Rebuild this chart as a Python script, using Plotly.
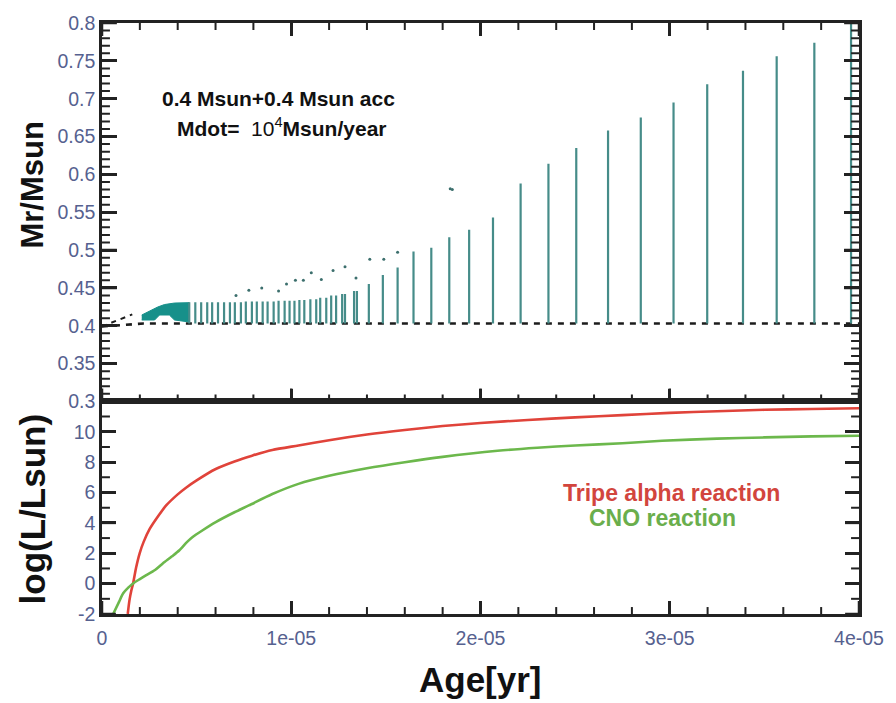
import plotly.graph_objects as go

# ---------------- data ----------------
# Age values are given in units of 1e-6 yr and scaled when plotted.
AGE_UNIT = 1e-6

# mass-coordinate spikes (teal stems rising from the base shell)
stem_age = [4.61, 4.93, 5.24, 5.56, 5.82, 6.13, 6.45, 6.76, 7.02, 7.34,
            7.60, 7.92, 8.18, 8.49, 8.75, 9.07, 9.33, 9.65, 9.91, 10.17,
            10.43, 10.69, 11.01, 11.32, 11.53, 11.85, 12.11, 12.37, 12.69, 12.84,
            13.32, 13.47, 14.10, 14.84, 15.62, 16.46, 17.40, 18.35, 19.40, 20.66,
            22.12, 23.59, 25.06, 26.74, 28.47, 30.20, 31.98, 33.87, 35.65, 37.64,
            39.58]
stem_top = [0.431, 0.431, 0.431, 0.431, 0.431, 0.431, 0.431, 0.431, 0.431, 0.431,
            0.432, 0.432, 0.432, 0.432, 0.432, 0.432, 0.433, 0.433, 0.433, 0.433,
            0.434, 0.434, 0.435, 0.435, 0.437, 0.437, 0.440, 0.440, 0.442, 0.442,
            0.446, 0.446, 0.455, 0.467, 0.477, 0.498, 0.503, 0.517, 0.527, 0.543,
            0.588, 0.614, 0.635, 0.658, 0.675, 0.695, 0.719, 0.737, 0.756, 0.774,
            0.800]
stem_base = 0.403

# dense early burning region (outline)
block_age = [2.10, 2.52, 2.94, 3.30, 3.83, 4.61, 4.61, 3.83, 3.56, 3.04, 2.78, 2.10]
block_mr = [0.4142, 0.4194, 0.4247, 0.4280, 0.4300, 0.4305, 0.4050, 0.4076,
            0.4142, 0.4142, 0.4076, 0.4076]

# isolated points above the spikes
dot_age = [7.08, 7.76, 8.44, 9.33, 9.75, 10.22, 10.64, 11.06, 11.59, 12.21,
           12.84, 13.42, 14.15, 14.89, 15.62, 18.40, 18.51]
dot_mr = [0.440, 0.447, 0.450, 0.446, 0.455, 0.460, 0.460, 0.470, 0.461, 0.473,
          0.478, 0.463, 0.488, 0.488, 0.497, 0.581, 0.580]

# core boundary (dashed)
core_age = [0.0, 2.2, 40.0]
core_mr = [0.399, 0.403, 0.403]
core2_age = [0.0, 1.6]
core2_mr = [0.399, 0.415]

# luminosities
alpha_age = [1.36, 1.45, 1.55, 1.64, 1.8, 1.99, 2.2, 2.52, 3.0, 3.39, 4.0, 4.44,
             5.0, 6.01, 7.0, 7.93, 9.0, 10.38, 12.0, 14.0, 16.0, 18.0, 20.0, 22.5,
             25.0, 27.5, 30.0, 32.5, 35.0, 37.5, 40.0]
alpha_logL = [-2.0, -1.1, -0.45, 0.0, 1.05, 2.0, 2.75, 3.6, 4.5, 5.15, 5.88, 6.32,
              6.8, 7.55, 8.05, 8.43, 8.8, 9.1, 9.45, 9.82, 10.12, 10.38, 10.58, 10.78,
              10.95, 11.1, 11.25, 11.35, 11.45, 11.5, 11.55]
cno_age = [0.59, 0.9, 1.12, 1.4, 1.64, 2.0, 2.34, 2.8, 3.21, 3.7, 4.09, 4.5,
           4.79, 5.3, 6.01, 7.0, 7.76, 9.0, 10.38, 12.0, 14.0, 16.0, 18.0, 20.9,
           23.0, 25.0, 27.5, 29.6, 32.5, 35.0, 37.5, 40.0]
cno_logL = [-2.0, -1.2, -0.64, -0.25, 0.01, 0.3, 0.56, 0.9, 1.33, 1.8, 2.2, 2.75,
            3.07, 3.5, 4.05, 4.7, 5.15, 5.9, 6.57, 7.1, 7.6, 8.0, 8.35, 8.75,
            8.95, 9.1, 9.25, 9.41, 9.55, 9.63, 9.7, 9.74]

# tick positions and labels
x_tick_vals = [0, 1e-05, 2e-05, 3e-05, 4e-05]
x_tick_text = ["0", "1e-05", "2e-05", "3e-05", "4e-05"]
mr_tick_vals = [0.3, 0.35, 0.4, 0.45, 0.5, 0.55, 0.6, 0.65, 0.7, 0.75, 0.8]
mr_tick_text = ["0.3", "0.35", "0.4", "0.45", "0.5", "0.55", "0.6", "0.65", "0.7", "0.75", "0.8"]
lum_tick_vals = [-2, 0, 2, 4, 6, 8, 10]
lum_tick_text = ["-2", "0", "2", "4", "6", "8", "10"]

# ---------------- layout geometry & styling ----------------
W, H = 896, 703
M_L, M_R, M_T, M_B = 102, 31, 19, 89
PLOT_W = W - M_L - M_R
PLOT_H = H - M_T - M_B
BOTTOM_PX = 214
split = BOTTOM_PX / PLOT_H

AXIS_COLOR = "#222222"
FONT = "Liberation Sans, Arial, sans-serif"
TICK_FONT = dict(family=FONT, size=19.5, color="#56618f")
TITLE_FONT = dict(family=FONT, size=31, color="#111111")
STEM_COLOR = "#468c89"
BLOCK_COLOR = "#17908a"

XR = [0, 4e-05]
Y1R = [-2, 12]
Y2R = [0.3, 0.8]

# data units per pixel for each axis
X_PER_PX = (XR[1] - XR[0]) / PLOT_W
Y1_PER_PX = (Y1R[1] - Y1R[0]) / BOTTOM_PX
Y2_PER_PX = (Y2R[1] - Y2R[0]) / (PLOT_H - BOTTOM_PX)


def scale(ages):
    return [a * AGE_UNIT for a in ages]


fig = go.Figure()

# dashed core boundary
fig.add_trace(go.Scatter(x=scale(core_age), y=core_mr, mode="lines",
                         line=dict(color="#1c1c1c", width=2.6, dash="6px,6px"),
                         xaxis="x2", yaxis="y2", hoverinfo="skip"))
fig.add_trace(go.Scatter(x=scale(core2_age), y=core2_mr, mode="lines",
                         line=dict(color="#1c1c1c", width=2.0, dash="5px,5px"),
                         xaxis="x2", yaxis="y2", hoverinfo="skip"))

# dense block
fig.add_trace(go.Scatter(x=scale(block_age), y=block_mr, mode="lines", fill="toself",
                         fillcolor=BLOCK_COLOR, line=dict(color=BLOCK_COLOR, width=1),
                         xaxis="x2", yaxis="y2", hoverinfo="skip"))

# stems
sx, sy = [], []
for a, t in zip(stem_age, stem_top):
    sx += [a * AGE_UNIT, a * AGE_UNIT, None]
    sy += [stem_base, t, None]
fig.add_trace(go.Scatter(x=sx, y=sy, mode="lines",
                         line=dict(color=STEM_COLOR, width=2.2),
                         xaxis="x2", yaxis="y2", hoverinfo="skip"))

# isolated dots
fig.add_trace(go.Scatter(x=scale(dot_age), y=dot_mr, mode="markers",
                         marker=dict(color="#3c6f6d", size=3),
                         xaxis="x2", yaxis="y2", hoverinfo="skip"))

# luminosity curves
fig.add_trace(go.Scatter(x=scale(alpha_age), y=alpha_logL, mode="lines",
                         line=dict(color="#e0433a", width=2.6, shape="spline", smoothing=0.7),
                         xaxis="x", yaxis="y", hoverinfo="skip"))
fig.add_trace(go.Scatter(x=scale(cno_age), y=cno_logL, mode="lines",
                         line=dict(color="#6cb84c", width=2.6, shape="spline", smoothing=0.7),
                         xaxis="x", yaxis="y", hoverinfo="skip"))


# ---------------- inward tick marks (minor ones included) ----------------
def add_ticks(xs, ys, xa, ya, width):
    fig.add_trace(go.Scatter(x=xs, y=ys, mode="lines",
                             line=dict(color=AXIS_COLOR, width=width),
                             xaxis=xa, yaxis=ya, hoverinfo="skip"))


def x_ticks(vals, edge, length_px, per_px, xa, ya, width):
    xs, ys = [], []
    for v in vals:
        xs += [v, v, None]
        ys += [edge, edge + length_px * per_px, None]
    add_ticks(xs, ys, xa, ya, width)


def y_ticks(vals, edge, length_px, xa, ya, width):
    xs, ys = [], []
    for v in vals:
        xs += [edge, edge + length_px * X_PER_PX, None]
        ys += [v, v, None]
    add_ticks(xs, ys, xa, ya, width)


x_minor = [i * 2e-06 for i in range(21) if i % 5]
mr_minor = [round(0.3 + i * 0.01, 3) for i in range(51) if i % 5]
lum_minor = [-1, 1, 3, 5, 7, 9, 11]

for vals, ln, wd in ((x_tick_vals, 13, 2.5), (x_minor, 7, 2)):
    x_ticks(vals, Y1R[0], ln, Y1_PER_PX, "x", "y", wd)
    x_ticks(vals, Y2R[0], ln, Y2_PER_PX, "x2", "y2", wd)
    x_ticks(vals, Y2R[1], -ln, Y2_PER_PX, "x2", "y2", wd)

for vals, ln, wd in ((mr_tick_vals, 15, 2.5), (mr_minor, 8, 2)):
    y_ticks(vals, XR[0], ln, "x2", "y2", wd)
    y_ticks(vals, XR[1], -ln, "x2", "y2", wd)
for vals, ln, wd in ((lum_tick_vals, 14, 2.5), (lum_minor, 8, 2)):
    y_ticks(vals, XR[0], ln, "x", "y", wd)
    y_ticks(vals, XR[1], -ln, "x", "y", wd)

axis_common = dict(showline=True, linecolor=AXIS_COLOR, linewidth=2.5,
                   ticks="inside", ticklen=13, tickwidth=2.5, tickcolor=AXIS_COLOR,
                   showgrid=False, zeroline=False, tickfont=TICK_FONT, mirror="allticks")

fig.update_layout(
    width=W, height=H,
    margin=dict(l=M_L, r=M_R, t=M_T, b=M_B),
    paper_bgcolor="white", plot_bgcolor="white",
    showlegend=False,
    xaxis=dict(axis_common, domain=[0, 1], anchor="y", range=XR, mirror=True,
               tickmode="array", tickvals=x_tick_vals, ticktext=x_tick_text,
               ticklabelstandoff=5),
    yaxis=dict(axis_common, domain=[0, split], anchor="x", range=Y1R, ticklen=14,
               tickmode="array", tickvals=lum_tick_vals, ticktext=lum_tick_text),
    xaxis2=dict(axis_common, domain=[0, 1], anchor="y2", range=XR, matches="x",
                tickmode="array", tickvals=x_tick_vals, showticklabels=False),
    yaxis2=dict(axis_common, domain=[split, 1], anchor="x2", range=Y2R, ticklen=15,
                tickmode="array", tickvals=mr_tick_vals, ticktext=mr_tick_text),
)

annotations = [
    dict(text="<b>0.4 Msun+0.4 Msun acc</b>", x=9.3e-06, y=0.700, xref="x2", yref="y2",
         showarrow=False, font=dict(family=FONT, size=21, color="#111111")),
    dict(text="<b>Mdot=</b>  10<sup>4</sup><b>Msun/year</b>", x=9.5e-06, y=0.663,
         xref="x2", yref="y2", showarrow=False,
         font=dict(family=FONT, size=21, color="#111111")),
    dict(text="<b>Tripe alpha reaction</b>", x=30.1e-06, y=6.0, xref="x", yref="y",
         showarrow=False, font=dict(family=FONT, size=23, color="#d2453d")),
    dict(text="<b>CNO reaction</b>", x=29.6e-06, y=4.35, xref="x", yref="y",
         showarrow=False, font=dict(family=FONT, size=23, color="#6aae4c")),
    dict(text="<b>Mr/Msun</b>", x=-0.0917, y=0.726, xref="paper", yref="paper",
         xanchor="center", yanchor="middle",
         textangle=-90, showarrow=False, font=TITLE_FONT),
    dict(text="<b>log(L/Lsun)</b>", x=-0.0917, y=0.178, xref="paper", yref="paper",
         xanchor="center", yanchor="middle",
         textangle=-90, showarrow=False, font=dict(TITLE_FONT, size=35)),
    dict(text="<b>Age[yr]</b>", x=0.5006, y=-0.111, xref="paper", yref="paper",
         xanchor="center", yanchor="middle",
         showarrow=False, font=dict(TITLE_FONT, size=35)),
]
fig.update_layout(annotations=annotations)

fig.write_html("out.html")
